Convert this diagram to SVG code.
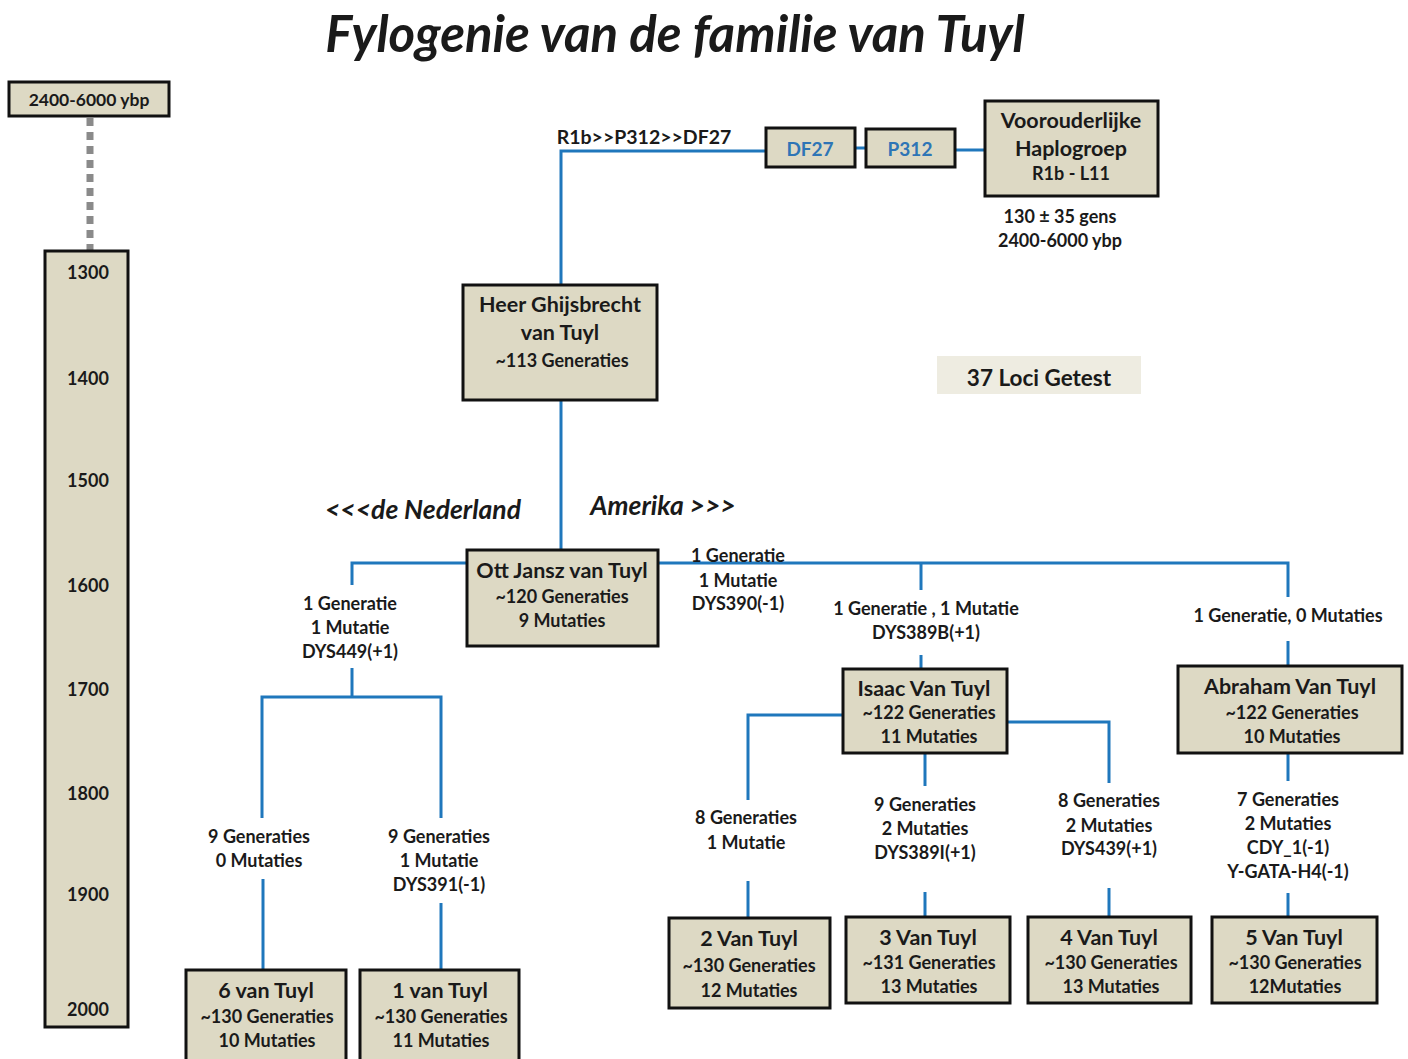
<svg xmlns="http://www.w3.org/2000/svg" width="1408" height="1059" viewBox="0 0 1408 1059">
<style>
text{font-family:Lato,"Open Sans","Liberation Sans",sans-serif;font-weight:bold;fill:#1a1a1a;text-anchor:middle;dominant-baseline:central}
.box{fill:#DDD9C4;stroke:#111;stroke-width:3}
.t{font-size:21.5px}
.s{font-size:18px}
.l{font-size:18px}
.blue{fill:#2E75B6;font-size:19px}
.c{fill:none;stroke:#1F77BC;stroke-width:3}
.it{font-style:italic;font-size:26.5px}
</style>
<rect width="1408" height="1059" fill="#fff"/>
<text x="675" y="32" style="font-size:51px;font-style:italic">Fylogenie van de familie van Tuyl</text>

<g id="timeline">
<line x1="90" y1="118" x2="90" y2="252" stroke="#8a8a8a" stroke-width="7" stroke-dasharray="8,6"/>
<rect class="box" x="9" y="82" width="160" height="34"/>
<text class="s" x="89" y="99" style="font-size:17.5px">2400-6000 ybp</text>
<rect class="box" x="45" y="251" width="83" height="776"/>
<text class="s" x="88" y="272">1300</text>
<text class="s" x="88" y="378">1400</text>
<text class="s" x="88" y="480">1500</text>
<text class="s" x="88" y="585">1600</text>
<text class="s" x="88" y="689">1700</text>
<text class="s" x="88" y="793">1800</text>
<text class="s" x="88" y="894">1900</text>
<text class="s" x="88" y="1009">2000</text>
</g>

<g id="connectors">
<polyline class="c" points="561,285 561,151 766,151"/>
<line class="c" x1="855" y1="148" x2="866" y2="148"/>
<line class="c" x1="955" y1="150" x2="985" y2="150"/>
<line class="c" x1="561" y1="400" x2="561" y2="550"/>
<polyline class="c" points="467,563 352,563 352,585"/>
<line class="c" x1="352" y1="668" x2="352" y2="697"/>
<polyline class="c" points="262,818 262,697 441,697 441,818"/>
<line class="c" x1="263" y1="879" x2="263" y2="970"/>
<line class="c" x1="441" y1="903" x2="441" y2="970"/>
<polyline class="c" points="658,563 1288,563 1288,597"/>
<line class="c" x1="921" y1="563" x2="921" y2="590"/>
<line class="c" x1="921" y1="655" x2="921" y2="669"/>
<polyline class="c" points="843,715 748,715 748,800"/>
<line class="c" x1="748" y1="881" x2="748" y2="918"/>
<line class="c" x1="925" y1="753" x2="925" y2="786"/>
<line class="c" x1="925" y1="892" x2="925" y2="917"/>
<polyline class="c" points="1007,722 1109,722 1109,783"/>
<line class="c" x1="1109" y1="888" x2="1109" y2="917"/>
<line class="c" x1="1288" y1="641" x2="1288" y2="666"/>
<line class="c" x1="1288" y1="753" x2="1288" y2="781"/>
<line class="c" x1="1288" y1="893" x2="1288" y2="917"/>
</g>

<g id="labels">
<text x="644" y="136" style="font-size:19.5px">R1b&gt;&gt;P312&gt;&gt;DF27</text>
<text class="s" x="1060" y="216">130 ± 35 gens</text>
<text class="s" x="1060" y="240">2400-6000 ybp</text>
<text class="it" x="423" y="509">&lt;&lt;&lt;de Nederland</text>
<text class="it" x="663" y="505">Amerika &gt;&gt;&gt;</text>
<text class="l" x="350" y="603">1 Generatie</text>
<text class="l" x="350" y="627">1 Mutatie</text>
<text class="l" x="350" y="651">DYS449(+1)</text>
<text class="l" x="738" y="555">1 Generatie</text>
<text class="l" x="738" y="580">1 Mutatie</text>
<text class="l" x="738" y="603">DYS390(-1)</text>
<text class="l" x="926" y="608">1 Generatie ,  1 Mutatie</text>
<text class="l" x="926" y="632">DYS389B(+1)</text>
<text class="l" x="1288" y="615">1 Generatie, 0 Mutaties</text>
<text class="l" x="259" y="836">9 Generaties</text>
<text class="l" x="259" y="860">0 Mutaties</text>
<text class="l" x="439" y="836">9 Generaties</text>
<text class="l" x="439" y="860">1 Mutatie</text>
<text class="l" x="439" y="884">DYS391(-1)</text>
<text class="l" x="746" y="817">8 Generaties</text>
<text class="l" x="746" y="842">1 Mutatie</text>
<text class="l" x="925" y="804">9 Generaties</text>
<text class="l" x="925" y="828">2 Mutaties</text>
<text class="l" x="925" y="852">DYS389I(+1)</text>
<text class="l" x="1109" y="800">8 Generaties</text>
<text class="l" x="1109" y="825">2 Mutaties</text>
<text class="l" x="1109" y="848">DYS439(+1)</text>
<text class="l" x="1288" y="799">7 Generaties</text>
<text class="l" x="1288" y="823">2 Mutaties</text>
<text class="l" x="1288" y="847">CDY_1(-1)</text>
<text class="l" x="1288" y="871">Y-GATA-H4(-1)</text>
</g>

<g id="loci">
<rect x="937" y="356" width="204" height="38" fill="#EEECE1"/>
<text x="1039" y="377" style="font-size:22.5px">37 Loci Getest</text>
</g>

<g id="df27"><rect class="box" x="766" y="128" width="89" height="39"/><text class="blue" x="810" y="148">DF27</text></g>
<g id="p312"><rect class="box" x="866" y="129" width="89" height="38"/><text class="blue" x="910" y="148">P312</text></g>
<g id="voorouderlijke"><rect class="box" x="985" y="101" width="173" height="95"/>
<text class="t" x="1071" y="120">Voorouderlijke</text><text class="t" x="1071" y="148">Haplogroep</text><text class="s" x="1071" y="173">R1b - L11</text></g>
<g id="heer"><rect class="box" x="463" y="285" width="194" height="115"/>
<text class="t" x="560" y="304">Heer Ghijsbrecht</text><text class="t" x="560" y="332">van Tuyl</text><text class="s" x="562" y="360">~113 Generaties</text></g>
<g id="ott"><rect class="box" x="467" y="550" width="191" height="96"/>
<text class="t" x="562" y="570">Ott Jansz van Tuyl</text><text class="s" x="562" y="596">~120 Generaties</text><text class="s" x="562" y="620">9 Mutaties</text></g>
<g id="isaac"><rect class="box" x="843" y="669" width="164" height="84"/>
<text class="t" x="924" y="688">Isaac Van Tuyl</text><text class="s" x="929" y="712">~122 Generaties</text><text class="s" x="929" y="736">11 Mutaties</text></g>
<g id="abraham"><rect class="box" x="1178" y="666" width="224" height="87"/>
<text class="t" x="1290" y="686">Abraham Van Tuyl</text><text class="s" x="1292" y="712">~122 Generaties</text><text class="s" x="1292" y="736">10 Mutaties</text></g>
<g id="vt6"><rect class="box" x="186" y="970" width="160" height="95"/>
<text class="t" x="266" y="990">6 van Tuyl</text><text class="s" x="267" y="1016">~130 Generaties</text><text class="s" x="267" y="1040">10 Mutaties</text></g>
<g id="vt1"><rect class="box" x="360" y="970" width="159" height="95"/>
<text class="t" x="440" y="990">1 van Tuyl</text><text class="s" x="441" y="1016">~130 Generaties</text><text class="s" x="441" y="1040">11 Mutaties</text></g>
<g id="vt2"><rect class="box" x="669" y="918" width="161" height="90"/>
<text class="t" x="749" y="938">2 Van Tuyl</text><text class="s" x="749" y="965">~130 Generaties</text><text class="s" x="749" y="990">12 Mutaties</text></g>
<g id="vt3"><rect class="box" x="846" y="917" width="164" height="86"/>
<text class="t" x="928" y="937">3 Van Tuyl</text><text class="s" x="929" y="962">~131 Generaties</text><text class="s" x="929" y="986">13 Mutaties</text></g>
<g id="vt4"><rect class="box" x="1028" y="917" width="163" height="86"/>
<text class="t" x="1109" y="937">4 Van Tuyl</text><text class="s" x="1111" y="962">~130 Generaties</text><text class="s" x="1111" y="986">13 Mutaties</text></g>
<g id="vt5"><rect class="box" x="1212" y="917" width="165" height="86"/>
<text class="t" x="1294" y="937">5 Van Tuyl</text><text class="s" x="1295" y="962">~130 Generaties</text><text class="s" x="1295" y="986">12Mutaties</text></g>
</svg>
